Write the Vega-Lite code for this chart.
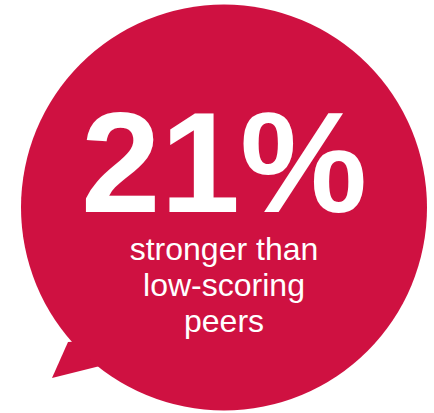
{
  "$schema": "https://vega.github.io/schema/vega-lite/v6.json",
  "width": 434,
  "height": 413,
  "padding": 0,
  "autosize": {"type": "none"},
  "background": "white",
  "config": {"view": {"stroke": null}},
  "datasets": {
    "bubble": [{"cx": 224, "cy": 207.5, "label": "bubble"}],
    "tail": [
      {"x": 52, "top": 378, "bottom": 378},
      {"x": 68, "top": 342, "bottom": 374},
      {"x": 100, "top": 340, "bottom": 366}
    ],
    "labels": [
      {"x": 224, "y": 212, "text": "21%", "kind": "big"},
      {"x": 224, "y": 260, "text": "stronger than\nlow-scoring\npeers", "kind": "small"}
    ]
  },
  "layer": [
    {
      "data": {"name": "tail"},
      "mark": {"type": "area", "color": "#CF1141", "interpolate": "linear"},
      "encoding": {
        "x": {"field": "x", "type": "quantitative", "scale": {"domain": [0, 434]}, "axis": null},
        "y": {"field": "top", "type": "quantitative", "scale": {"domain": [0, 413], "reverse": true, "zero": false}, "axis": null},
        "y2": {"field": "bottom"}
      }
    },
    {
      "data": {"name": "bubble"},
      "mark": {"type": "point", "shape": "circle", "filled": true, "opacity": 1, "color": "#CF1141", "strokeWidth": 0, "size": 164836},
      "encoding": {
        "x": {"field": "cx", "type": "quantitative", "scale": {"domain": [0, 434]}, "axis": null},
        "y": {"field": "cy", "type": "quantitative", "scale": {"domain": [0, 413], "reverse": true, "zero": false}, "axis": null}
      }
    },
    {
      "data": {"name": "labels"},
      "transform": [{"filter": "datum.kind === 'big'"}],
      "mark": {"type": "text", "font": "Liberation Sans", "fontWeight": "bold", "fontSize": 143, "color": "white", "align": "center", "baseline": "alphabetic"},
      "encoding": {
        "x": {"field": "x", "type": "quantitative", "scale": {"domain": [0, 434]}, "axis": null},
        "y": {"field": "y", "type": "quantitative", "scale": {"domain": [0, 413], "reverse": true, "zero": false}, "axis": null},
        "text": {"field": "text"}
      }
    },
    {
      "data": {"name": "labels"},
      "transform": [{"filter": "datum.kind === 'small'"}],
      "mark": {"type": "text", "font": "Liberation Sans", "fontSize": 32, "color": "white", "align": "center", "baseline": "alphabetic", "lineBreak": "\n", "lineHeight": 36},
      "encoding": {
        "x": {"field": "x", "type": "quantitative", "scale": {"domain": [0, 434]}, "axis": null},
        "y": {"field": "y", "type": "quantitative", "scale": {"domain": [0, 413], "reverse": true, "zero": false}, "axis": null},
        "text": {"field": "text"}
      }
    }
  ]
}
